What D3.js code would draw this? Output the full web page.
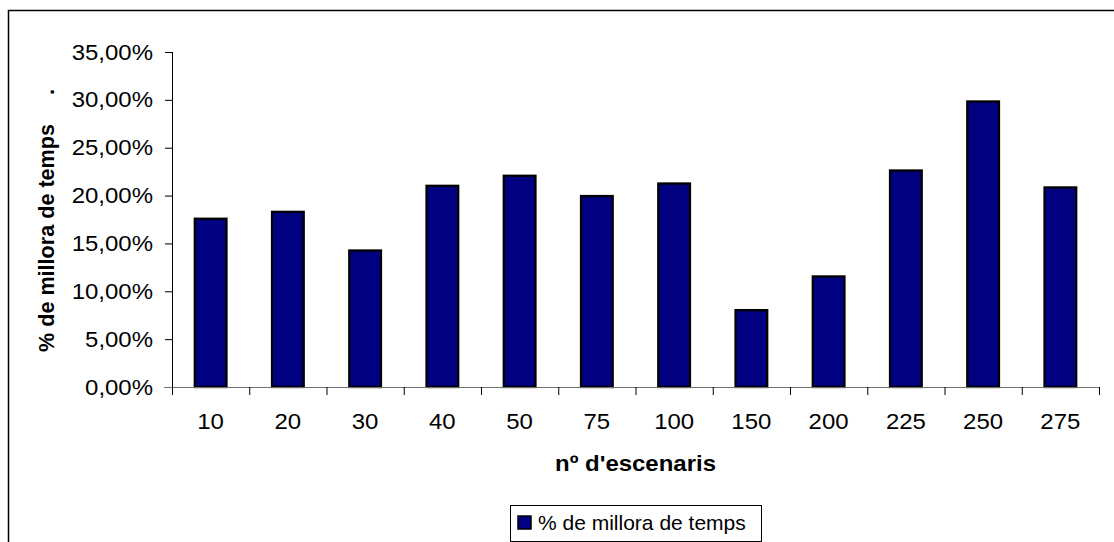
<!DOCTYPE html>
<html>
<head>
<meta charset="utf-8">
<script src="https://cdn.jsdelivr.net/npm/d3@7"></script>
<style>
  body { margin: 0; background: #fff; }
  text { font-family: Arial, "Liberation Sans", sans-serif; }
</style>
</head>
<body>
<div id="chart"></div>
<script>
// Data
const escenaris = ["10", "20", "30", "40", "50", "75", "100", "150", "200", "225", "250", "275"];
const millora = [17.58, 18.3, 14.26, 21.02, 22.07, 19.95, 21.26, 8.03, 11.55, 22.62, 29.83, 20.85];
const yTicks = [0, 5, 10, 15, 20, 25, 30, 35];
const seriesName = "% de millora de temps";

const W = 1114, H = 542;
const plot = { left: 172, right: 1099, top: 52, bottom: 387 };
const SX = 1.09; // the original text is a bit wider than it is tall

const svg = d3.select("#chart")
    .append("svg")
    .attr("width", W)
    .attr("height", H);

// widen a text horizontally around its own anchor point
function stretch(sel) {
    sel.each(function () {
        const t = d3.select(this);
        const ax = +t.attr("x") || 0;
        const ay = +t.attr("y") || 0;
        t.attr("transform", `translate(${ax},${ay}) scale(${SX},1) translate(${-ax},${-ay})`);
    });
}

// Outer chart border (right/bottom run past the window)
svg.append("rect")
    .attr("x", 8.5)
    .attr("y", 10.5)
    .attr("width", 1120)
    .attr("height", 560)
    .attr("fill", "white")
    .attr("stroke", "#000")
    .attr("stroke-width", 1.5);

const x = d3.scaleBand()
    .domain(escenaris)
    .range([plot.left, plot.right])
    .paddingInner(0.59)
    .paddingOuter(0.295);

const y = d3.scaleLinear()
    .domain([0, 35])
    .range([plot.bottom, plot.top]);

const locale = d3.formatLocale({ decimal: ",", thousands: ".", grouping: [3], currency: ["", "€"] });
const fmt = locale.format(".2f");

// Y axis
const yAxis = svg.append("g")
    .attr("transform", `translate(${plot.left},0)`)
    .call(d3.axisLeft(y).tickValues(yTicks).tickSize(7).tickPadding(12).tickFormat(d => fmt(d) + "%"));
yAxis.select(".domain").attr("stroke", "#000").attr("d", `M0.5,${plot.top}V${plot.bottom + 8}`);
yAxis.selectAll(".tick line").attr("stroke", "#000");
yAxis.selectAll(".tick text")
    .attr("font-size", 22)
    .attr("fill", "#000")
    .attr("font-family", "Arial, 'Liberation Sans', sans-serif")
    .call(stretch);

// Bars
svg.append("g")
    .selectAll("rect")
    .data(millora)
    .join("rect")
    .attr("x", (d, i) => x(escenaris[i]))
    .attr("y", d => y(d))
    .attr("width", x.bandwidth())
    .attr("height", d => y(0) - y(d))
    .attr("fill", "#000080")
    .attr("stroke", "#000")
    .attr("stroke-width", 2.3);

// X axis: ticks sit between categories
const xAxisG = svg.append("g")
    .attr("transform", `translate(0,${plot.bottom})`);
xAxisG.append("line")
    .attr("x1", plot.left - 8)
    .attr("x2", plot.right)
    .attr("y1", 0.5)
    .attr("y2", 0.5)
    .attr("stroke", "#707070")
    .attr("stroke-width", 1.2);
const step = x.step();
xAxisG.selectAll(".xtick")
    .data(d3.range(escenaris.length + 1))
    .join("line")
    .attr("class", "xtick")
    .attr("x1", i => plot.left + i * step + 0.5)
    .attr("x2", i => plot.left + i * step + 0.5)
    .attr("y1", 0)
    .attr("y2", 8)
    .attr("stroke", "#000");
xAxisG.selectAll(".xlabel")
    .data(escenaris)
    .join("text")
    .attr("class", "xlabel")
    .attr("x", d => x(d) + x.bandwidth() / 2)
    .attr("y", 42)
    .attr("text-anchor", "middle")
    .attr("font-size", 22)
    .text(d => d)
    .call(stretch);

// Axis titles
svg.append("text")
    .attr("x", (plot.left + plot.right) / 2)
    .attr("y", 471)
    .attr("text-anchor", "middle")
    .attr("font-size", 22)
    .attr("font-weight", "bold")
    .text("nº d'escenaris")
    .call(stretch);

svg.append("text")
    .attr("transform", `translate(54,352) rotate(-90)`)
    .attr("text-anchor", "start")
    .attr("font-size", 21.6)
    .attr("font-weight", "bold")
    .text(seriesName);

svg.append("text")
    .attr("transform", `translate(54,92) rotate(-90)`)
    .attr("text-anchor", "middle")
    .attr("font-size", 22)
    .attr("font-weight", "bold")
    .text(".");

// Legend
const legend = svg.append("g")
    .attr("transform", "translate(510,505)");
legend.append("rect")
    .attr("x", 0.5)
    .attr("y", 0.5)
    .attr("width", 251)
    .attr("height", 36)
    .attr("fill", "white")
    .attr("stroke", "#000");
legend.append("rect")
    .attr("x", 8)
    .attr("y", 11)
    .attr("width", 13)
    .attr("height", 13)
    .attr("fill", "#000080")
    .attr("stroke", "#000")
    .attr("stroke-width", 1.5);
legend.append("text")
    .attr("x", 28)
    .attr("y", 25)
    .attr("font-size", 21)
    .text(seriesName);
</script>
</body>
</html>
